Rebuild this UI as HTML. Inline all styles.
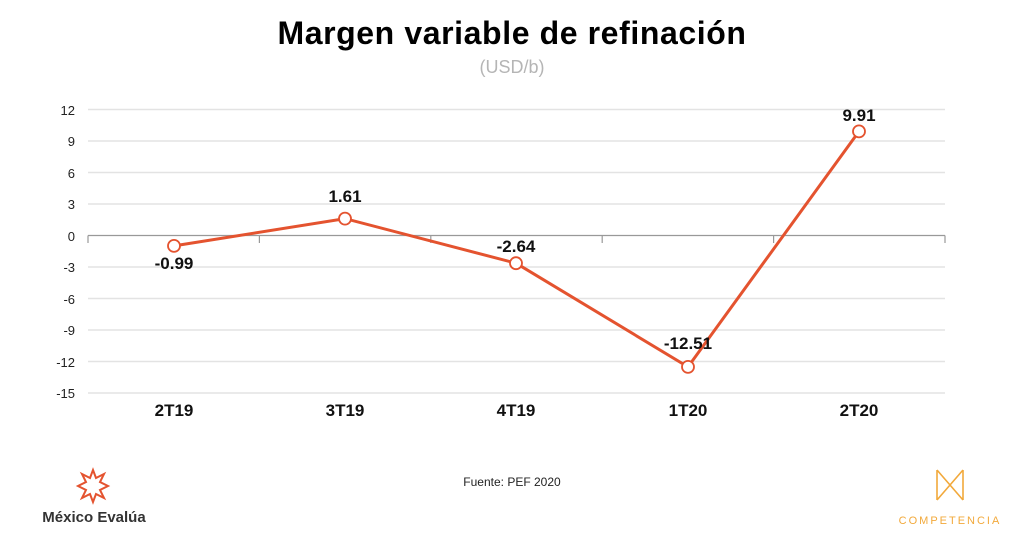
<!DOCTYPE html>
<html><head><meta charset="utf-8"><style>
body{margin:0;background:#fff;width:1024px;height:537px;overflow:hidden;font-family:"Liberation Sans",sans-serif}
</style></head><body>
<svg width="1024" height="537" xmlns="http://www.w3.org/2000/svg" font-family="Liberation Sans, sans-serif">
<text x="512" y="44" text-anchor="middle" font-size="32" font-weight="bold" letter-spacing="0.6" fill="#000">Margen variable de refinación</text>
<text x="512" y="73" text-anchor="middle" font-size="18" fill="#b5b5b5">(USD/b)</text>
<g stroke="#e3e3e3" stroke-width="1.5">
<line x1="88" x2="945" y1="109.5" y2="109.5"/><line x1="88" x2="945" y1="141" y2="141"/>
<line x1="88" x2="945" y1="172.5" y2="172.5"/><line x1="88" x2="945" y1="204" y2="204"/>
<line x1="88" x2="945" y1="267" y2="267"/><line x1="88" x2="945" y1="298.5" y2="298.5"/>
<line x1="88" x2="945" y1="330" y2="330"/><line x1="88" x2="945" y1="361.5" y2="361.5"/>
<line x1="88" x2="945" y1="393" y2="393"/>
</g>
<g stroke="#999" stroke-width="1.2">
<line x1="88" x2="945" y1="235.5" y2="235.5"/>
<line x1="88" x2="88" y1="235.5" y2="243"/><line x1="259.4" x2="259.4" y1="235.5" y2="243"/>
<line x1="430.8" x2="430.8" y1="235.5" y2="243"/><line x1="602.2" x2="602.2" y1="235.5" y2="243"/>
<line x1="773.6" x2="773.6" y1="235.5" y2="243"/><line x1="945" x2="945" y1="235.5" y2="243"/>
</g>
<g font-size="13" fill="#222" text-anchor="end">
<text x="75" y="115">12</text><text x="75" y="146">9</text><text x="75" y="178">6</text><text x="75" y="209">3</text>
<text x="75" y="241">0</text><text x="75" y="272">-3</text><text x="75" y="304">-6</text><text x="75" y="335">-9</text>
<text x="75" y="367">-12</text><text x="75" y="398">-15</text>
</g>
<g font-size="17" font-weight="bold" fill="#111" text-anchor="middle">
<text x="174" y="416">2T19</text><text x="345" y="416">3T19</text><text x="516" y="416">4T19</text><text x="688" y="416">1T20</text><text x="859" y="416">2T20</text>
</g>
<polyline points="174,245.9 345,218.6 516,263.2 688,366.9 859,131.4" fill="none" stroke="#e4532f" stroke-width="3"/>
<g fill="#fff" stroke="#e4532f" stroke-width="1.8">
<circle cx="174" cy="245.9" r="6"/><circle cx="345" cy="218.6" r="6"/><circle cx="516" cy="263.2" r="6"/><circle cx="688" cy="366.9" r="6"/><circle cx="859" cy="131.4" r="6"/>
</g>
<g font-size="17" font-weight="bold" fill="#111" text-anchor="middle">
<text x="174" y="269">-0.99</text><text x="345" y="202">1.61</text><text x="516" y="252">-2.64</text><text x="688" y="349">-12.51</text><text x="859" y="121">9.91</text>
</g>
<text x="512" y="486" text-anchor="middle" font-size="12" fill="#222">Fuente: PEF 2020</text>
<g stroke-width="2" fill="none">
<path d="M93 470 L96 478 L104 474 L100 482 L108 486 L100 490 L104 498 L96 494 L93 502 L90 494 L82 498 L86 490 L78 486 L86 482 L82 474 L90 478 Z" stroke="#e4532f"/>
</g>
<text x="94" y="522" text-anchor="middle" font-size="15" font-weight="bold" fill="#333">México Evalúa</text>
<g stroke="#f2a93b" stroke-width="1.6" fill="none">
<path d="M937 470 L937 500 M963 470 L963 500 M937 470 L963 500 M963 470 L937 500"/>
</g>
<text x="950" y="524" text-anchor="middle" font-size="11" letter-spacing="2" fill="#f2a93b">COMPETENCIA</text>
</svg>
</body></html>
